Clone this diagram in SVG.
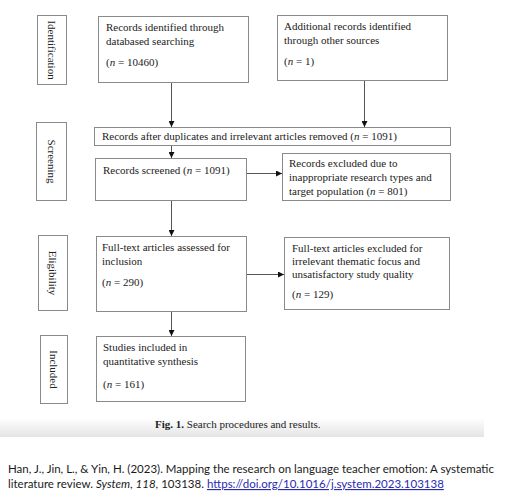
<svg xmlns="http://www.w3.org/2000/svg" width="513" height="500" viewBox="0 0 513 500">
<style>
.box{fill:#fff;stroke:#8a8a8a;stroke-width:1}
.side{fill:#fff;stroke:#8a8a8a;stroke-width:1}
.t{font-family:"Liberation Serif","Times New Roman",serif;font-size:11px;fill:#222}
.lab{font-family:"Liberation Serif","Times New Roman",serif;font-size:11px;fill:#222;text-anchor:middle;dominant-baseline:central}
.con{stroke:#555;stroke-width:1;fill:none;marker-end:url(#ah)}
.cit{font-family:Lato,"Open Sans",sans-serif;font-size:11.5px;fill:#1a1a1a}
</style>
<defs>
<marker id="ah" viewBox="0 0 6 6" refX="6" refY="3" markerWidth="6" markerHeight="6" markerUnits="userSpaceOnUse" orient="auto">
<path d="M0,0 L6,3 L0,6 z" fill="#111"/>
</marker>
<linearGradient id="shade" x1="0" y1="0" x2="0" y2="1">
<stop offset="0" stop-color="#ffffff"/>
<stop offset="1" stop-color="#e4e4e4"/>
</linearGradient>
</defs>
<rect width="513" height="500" fill="#fff"/>
<rect x="0" y="418" width="484" height="19" fill="url(#shade)"/>

<g id="stage-identification">
<rect class="side" x="37.5" y="15.5" width="29" height="69"/>
<text class="lab" transform="translate(52,50) rotate(90)">Identification</text>
</g>
<g id="stage-screening">
<rect class="side" x="36.5" y="122.5" width="30" height="78"/>
<text class="lab" transform="translate(51.5,161.5) rotate(90)">Screening</text>
</g>
<g id="stage-eligibility">
<rect class="side" x="38.5" y="235.5" width="29" height="75"/>
<text class="lab" transform="translate(53,273) rotate(90)">Eligibility</text>
</g>
<g id="stage-included">
<rect class="side" x="40.5" y="335.5" width="27" height="68"/>
<text class="lab" transform="translate(54,369.5) rotate(90)">Included</text>
</g>

<g id="db-records">
<rect class="box" x="98.5" y="16.5" width="150" height="66"/>
<text class="t" x="106" y="31">Records identified through</text>
<text class="t" x="106" y="45">databased searching</text>
<text class="t" x="106" y="66">(<tspan font-style="italic">n</tspan> = 10460)</text>
</g>
<g id="other-records">
<rect class="box" x="277.5" y="15.5" width="170" height="65"/>
<text class="t" x="284" y="30">Additional records identified</text>
<text class="t" x="284" y="44">through other sources</text>
<text class="t" x="284" y="65">(<tspan font-style="italic">n</tspan> = 1)</text>
</g>
<g id="after-duplicates">
<rect class="box" x="94.5" y="127.5" width="356" height="18"/>
<text class="t" x="102" y="140">Records after duplicates and irrelevant articles removed (<tspan font-style="italic">n</tspan> = 1091)</text>
</g>
<g id="screened">
<rect class="box" x="95.5" y="158.5" width="151" height="42"/>
<text class="t" x="103" y="174">Records screened (<tspan font-style="italic">n</tspan> = 1091)</text>
</g>
<g id="excluded-screening">
<rect class="box" x="282.5" y="153.5" width="168" height="47"/>
<text class="t" x="289" y="167">Records excluded due to</text>
<text class="t" x="289" y="181">inappropriate research types and</text>
<text class="t" x="289" y="195">target population (<tspan font-style="italic">n</tspan> = 801)</text>
</g>
<g id="fulltext">
<rect class="box" x="96.5" y="236.5" width="150" height="75"/>
<text class="t" x="102" y="251">Full-text articles assessed for</text>
<text class="t" x="102" y="265">inclusion</text>
<text class="t" x="102" y="286">(<tspan font-style="italic">n</tspan> = 290)</text>
</g>
<g id="excluded-fulltext">
<rect class="box" x="284.5" y="237.5" width="165" height="72"/>
<text class="t" x="292" y="252">Full-text articles excluded for</text>
<text class="t" x="292" y="265">irrelevant thematic focus and</text>
<text class="t" x="292" y="278">unsatisfactory study quality</text>
<text class="t" x="292" y="298">(<tspan font-style="italic">n</tspan> = 129)</text>
</g>
<g id="included-studies">
<rect class="box" x="96.5" y="336.5" width="149" height="65"/>
<text class="t" x="103" y="351">Studies included in</text>
<text class="t" x="103" y="365">quantitative synthesis</text>
<text class="t" x="103" y="388">(<tspan font-style="italic">n</tspan> = 161)</text>
</g>

<g id="connectors">
<line class="con" x1="171.5" y1="83" x2="171.5" y2="127"/>
<line class="con" x1="364.5" y1="81" x2="364.5" y2="127"/>
<line class="con" x1="171.5" y1="146" x2="171.5" y2="158"/>
<line class="con" x1="247" y1="173.5" x2="282" y2="173.5"/>
<line class="con" x1="171.5" y1="201" x2="171.5" y2="236"/>
<line class="con" x1="247" y1="274.5" x2="284" y2="274.5"/>
<line class="con" x1="171.5" y1="312" x2="171.5" y2="336"/>
</g>

<g id="caption">
<text class="t" x="155" y="428"><tspan font-weight="bold">Fig. 1.</tspan>  Search procedures and results.</text>
</g>
<g id="citation">
<text class="cit" x="8" y="473">Han, J., Jin, L., &amp; Yin, H. (2023). Mapping the research on language teacher emotion: A systematic</text>
<text class="cit" x="8" y="488">literature review. <tspan font-style="italic">System</tspan>, <tspan font-style="italic">118</tspan>, 103138.</text>
<text class="cit" x="207" y="488" text-decoration="underline" style="fill:#2a2ab0">https://doi.org/10.1016/j.system.2023.103138</text>
</g>
</svg>
